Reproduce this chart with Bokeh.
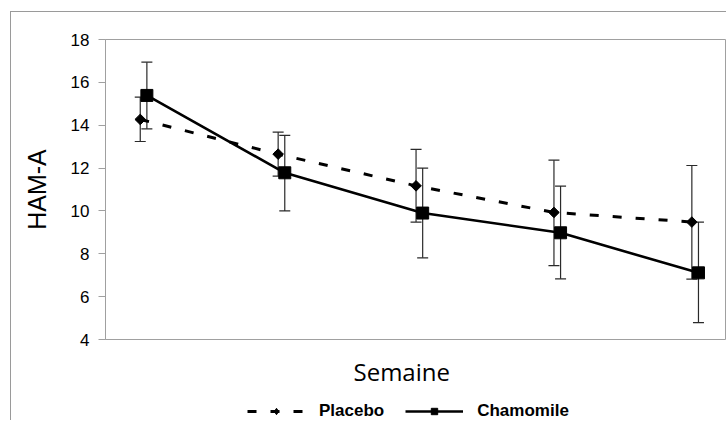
from bokeh.plotting import figure
from bokeh.layouts import column
from bokeh.models import (ColumnDataSource, Whisker, TeeHead, Legend, LegendItem,
                          FixedTicker, Range1d, Title)
from bokeh.embed import file_html
from bokeh.resources import INLINE

# ---- data ----
weeks = [0, 1, 2, 3, 4]
placebo_mean = [14.27, 12.65, 11.17, 9.93, 9.48]
placebo_upper = [15.31, 13.68, 12.87, 12.37, 12.12]
placebo_lower = [13.24, 11.62, 9.48, 7.45, 6.82]
chamomile_mean = [15.39, 11.78, 9.90, 8.98, 7.11]
chamomile_upper = [16.94, 13.53, 12.00, 11.16, 9.48]
chamomile_lower = [13.83, 10.00, 7.81, 6.83, 4.79]
y_ticks = [4, 6, 8, 10, 12, 14, 16, 18]
series_names = ["Placebo", "Chamomile"]
x_title = "Semaine"
y_title = "HAM-A"

# small horizontal dodge between the two series
OFF = 0.024
src_p = ColumnDataSource(dict(x=[w - OFF for w in weeks], mean=placebo_mean,
                              upper=placebo_upper, lower=placebo_lower))
src_c = ColumnDataSource(dict(x=[w + OFF for w in weeks], mean=chamomile_mean,
                              upper=chamomile_upper, lower=chamomile_lower))

GRAY = "#a0a0a0"
DASH = "9 14"


def add_series(fig, legend_style=False):
    """Draw both series (lines + markers) on a figure, return the renderers."""
    lp = fig.line("x", "mean", source=src_p, line_color="black", line_width=3,
                  line_dash=DASH)
    if legend_style:
        mp = fig.scatter("x", "mean", source=src_p, marker="diamond", size=12,
                         fill_color="black", line_color="black")
    else:
        mp = fig.scatter("x", "mean", source=src_p, marker="square",
                         angle=0.785398, size=7.5, fill_color="black",
                         line_color="black")
    lc = fig.line("x", "mean", source=src_c, line_color="black", line_width=2.6)
    mc = fig.scatter("x", "mean", source=src_c, marker="square", size=12,
                     fill_color="black", line_color="black")
    return lp, mp, lc, mc


# ---- main chart ----
p = figure(width=715, height=337,
           x_range=Range1d(-0.276, 4.22), y_range=Range1d(4, 18),
           output_backend="svg", toolbar_location=None,
           min_border_left=94, min_border_top=27, min_border_right=1,
           min_border_bottom=10)

p.grid.visible = False
p.outline_line_color = GRAY
p.outline_line_width = 1
p.background_fill_color = "white"
p.border_fill_color = "white"
p.xaxis.visible = False   # x axis has no ticks; the frame outline draws its line

# y axis
ya = p.yaxis[0]
ya.ticker = FixedTicker(ticks=y_ticks)
ya.major_tick_out = 7
ya.major_tick_in = 0
ya.minor_tick_out = 0
ya.minor_tick_in = 0
ya.axis_line_color = GRAY
ya.major_tick_line_color = GRAY
ya.major_label_text_font = "Liberation Sans"
ya.major_label_text_font_size = "17px"
ya.major_label_text_color = "black"
ya.major_label_standoff = 9
ya.axis_label = y_title
ya.axis_label_text_font = "Liberation Sans"
ya.axis_label_text_font_style = "normal"
ya.axis_label_text_font_size = "25px"
ya.axis_label_text_color = "black"
ya.axis_label_standoff = 17

# error bars
for src in (src_p, src_c):
    w = Whisker(source=src, base="x", upper="upper", lower="lower",
                dimension="height", line_color="#2a2a2a", line_width=1.2,
                upper_head=TeeHead(size=11, line_color="#2a2a2a", line_width=1.2),
                lower_head=TeeHead(size=11, line_color="#2a2a2a", line_width=1.2))
    p.add_layout(w)

add_series(p)

# ---- strip below: x-axis title and legend (series drawn out of its view) ----
q = figure(width=715, height=71, x_range=Range1d(0, 1), y_range=Range1d(-2, -1),
           output_backend="svg", toolbar_location=None,
           x_axis_location=None, y_axis_location=None,
           min_border_left=0, min_border_right=0, min_border_top=0,
           min_border_bottom=0)
q.grid.visible = False
q.outline_line_color = None
q.background_fill_color = "white"
q.border_fill_color = "white"

xt = Title(text=x_title, align="left", offset=248, vertical_align="middle",
           standoff=9, text_font="Open Sans", text_font_style="normal",
           text_font_size="24px", text_color="black")
q.add_layout(xt, "above")

qlp, qmp, qlc, qmc = add_series(q, legend_style=True)

legend = Legend(items=[LegendItem(label=series_names[0], renderers=[qlp, qmp]),
                       LegendItem(label=series_names[1], renderers=[qlc, qmc])],
                orientation="horizontal", location=(142, -1),
                glyph_width=58, glyph_height=16, label_height=16,
                label_standoff=14, spacing=21, padding=0, margin=0,
                border_line_alpha=0, background_fill_alpha=0,
                label_text_font="Liberation Sans", label_text_font_style="bold",
                label_text_font_size="17px", label_text_color="black")
q.add_layout(legend, "center")

layout = column(p, q, spacing=0)
layout.styles = {"margin-left": "10px", "margin-top": "11px",
                 "border-left": "1px solid #9a9a9a",
                 "border-top": "1px solid #9a9a9a"}

open("out.html", "w").write(file_html(layout, INLINE))
